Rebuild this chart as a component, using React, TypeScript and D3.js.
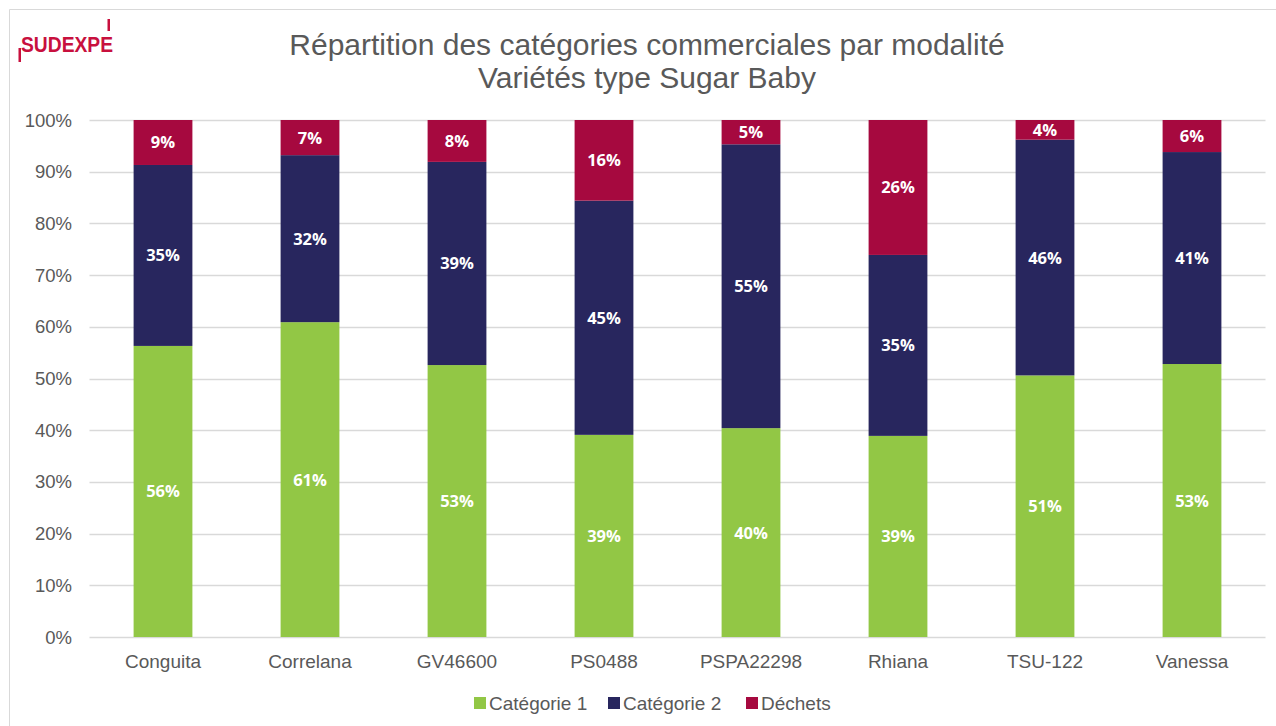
import React from "react";
import * as d3 from "d3";

const categories = ["Conguita", "Correlana", "GV46600", "PS0488", "PSPA22298", "Rhiana", "TSU-122", "Vanessa"];
const cat1 = [0.563, 0.609, 0.526, 0.391, 0.404, 0.389, 0.506, 0.528];
const cat2 = [0.350, 0.323, 0.393, 0.453, 0.549, 0.350, 0.456, 0.410];
const dechets = [0.087, 0.068, 0.081, 0.156, 0.047, 0.261, 0.038, 0.062];
const seriesNames = ["Catégorie 1", "Catégorie 2", "Déchets"];
const yTicks = [0, 0.1, 0.2, 0.3, 0.4, 0.5, 0.6, 0.7, 0.8, 0.9, 1.0];

const colors = ["#92C745", "#28265E", "#A6093F"];
const gray = "#595959";
const font = "'Liberation Sans', Arial, sans-serif";

export default function App() {
  const W = 1276, H = 726;
  const left = 89.5, right = 1265.5, top = 120, bottom = 637;
  const x = d3.scaleBand<string>().domain(categories).range([left, right]).paddingInner(0.6).paddingOuter(0.3);
  const y = d3.scaleLinear().domain([0, 1]).range([bottom, top]);
  const series = [cat1, cat2, dechets];
  const rows = categories.map((c, i) => ({ cat: c, s0: cat1[i], s1: cat2[i], s2: dechets[i] }));
  const stack = d3.stack<any>().keys(["s0", "s1", "s2"])(rows);
  const fmt = d3.format(".0%");

  const legendItems = [
    { name: seriesNames[0], x: 474 },
    { name: seriesNames[1], x: 608 },
    { name: seriesNames[2], x: 746 },
  ];

  return (
    <div style={{ position: "fixed", left: 0, top: 0, width: W, height: H, overflow: "hidden", background: "#fff" }}>
      <svg width={W} height={H} style={{ display: "block" }}>
        <rect x={0} y={0} width={W} height={H} fill="#fff" />
        <line x1={9.5} y1={9.5} x2={W} y2={9.5} stroke="#D9D9D9" />
        <line x1={9.5} y1={9.5} x2={9.5} y2={H} stroke="#D9D9D9" />

        {/* logo */}
        <g fill="#C8103E">
          <text x={21} y={51.5} fontFamily="'Liberation Sans', Arial, sans-serif" fontWeight="bold" fontSize={22} textLength={92} lengthAdjust="spacingAndGlyphs">SUDEXPE</text>
          <rect x={107.5} y={19} width={2.5} height={12} />
          <rect x={18.5} y={48} width={2.5} height={14} />
        </g>

        <text x={647} y={55} textAnchor="middle" fontFamily={font} fontSize={30} fill={gray}>Répartition des catégories commerciales par modalité</text>
        <text x={647} y={88} textAnchor="middle" fontFamily={font} fontSize={30} fill={gray}>Variétés type Sugar Baby</text>

        {yTicks.map((t) => (
          <g key={t}>
            <line x1={left} x2={right} y1={Math.round(y(t)) + 0.5} y2={Math.round(y(t)) + 0.5} stroke="#D9D9D9" strokeWidth={1.5} />
            <text x={72} y={y(t) + 6.5} textAnchor="end" fontFamily={font} fontSize={18.5} fill={gray}>{fmt(t)}</text>
          </g>
        ))}

        {stack.map((layer, si) => (
          <g key={si}>
            {layer.map((d, i) => {
              const bx = x(categories[i])!;
              const y0 = y(d[0]), y1 = y(d[1]);
              return (
                <g key={i}>
                  <rect x={bx} y={y1} width={x.bandwidth()} height={y0 - y1} fill={colors[si]} />
                  <text x={bx + x.bandwidth() / 2} y={(y0 + y1) / 2 + 6} textAnchor="middle" fontFamily="'Open Sans', sans-serif" fontWeight="bold" fontSize={16.5} fill="#fff">
                    {fmt(series[si][i])}
                  </text>
                </g>
              );
            })}
          </g>
        ))}

        {categories.map((c) => (
          <text key={c} x={x(c)! + x.bandwidth() / 2} y={668} textAnchor="middle" fontFamily={font} fontSize={19} fill={gray}>{c}</text>
        ))}

        {legendItems.map((l, i) => (
          <g key={l.name}>
            <rect x={l.x} y={697} width={12} height={12} fill={colors[i]} />
            <text x={l.x + 15} y={710} fontFamily={font} fontSize={19} fill={gray}>{l.name}</text>
          </g>
        ))}
      </svg>
    </div>
  );
}
